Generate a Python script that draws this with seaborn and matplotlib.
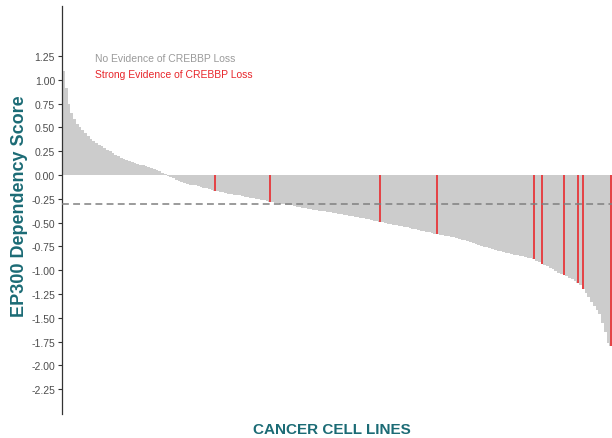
####################################################################################################
# EP300 dependency waterfall, cell lines sorted by score, CREBBP loss highlighted in red
####################################################################################################

import numpy as np
import pandas as pd
import seaborn as sns
import matplotlib
matplotlib.use('Agg')
import matplotlib.pyplot as plt

# Dependency scores (sorted, highest first)
scores = [
    1.09, 0.91, 0.75, 0.65, 0.59, 0.54, 0.50, 0.47, 0.44, 0.41,
    0.38, 0.36, 0.34, 0.32, 0.30, 0.28, 0.26, 0.25, 0.23, 0.21,
    0.20, 0.18, 0.17, 0.16, 0.15, 0.14, 0.13, 0.12, 0.11, 0.10,
    0.09, 0.08, 0.07, 0.06, 0.05, 0.04, 0.025, 0.01, -0.01, -0.02,
    -0.035, -0.05, -0.06, -0.07, -0.08, -0.09, -0.10, -0.105, -0.11, -0.12,
    -0.13, -0.135, -0.14, -0.15, -0.155, -0.165, -0.17, -0.175, -0.18, -0.19,
    -0.195, -0.20, -0.205, -0.21, -0.215, -0.22, -0.23, -0.235, -0.24, -0.245,
    -0.25, -0.255, -0.26, -0.265, -0.27, -0.28, -0.285, -0.29, -0.295, -0.30,
    -0.305, -0.31, -0.315, -0.32, -0.33, -0.335, -0.34, -0.345, -0.35, -0.355,
    -0.36, -0.365, -0.37, -0.375, -0.38, -0.38, -0.39, -0.39, -0.40, -0.40,
    -0.41, -0.41, -0.42, -0.42, -0.43, -0.435, -0.44, -0.445, -0.45, -0.455,
    -0.46, -0.465, -0.47, -0.48, -0.485, -0.49, -0.495, -0.50, -0.51, -0.515,
    -0.52, -0.53, -0.535, -0.54, -0.545, -0.55, -0.56, -0.565, -0.57, -0.58,
    -0.585, -0.59, -0.595, -0.60, -0.61, -0.615, -0.62, -0.625, -0.63, -0.64,
    -0.645, -0.65, -0.655, -0.66, -0.67, -0.68, -0.685, -0.695, -0.705, -0.715,
    -0.725, -0.735, -0.745, -0.755, -0.76, -0.77, -0.78, -0.785, -0.795, -0.80,
    -0.81, -0.815, -0.82, -0.83, -0.835, -0.845, -0.85, -0.855, -0.865, -0.87,
    -0.875, -0.88, -0.90, -0.915, -0.93, -0.945, -0.96, -0.975, -0.99, -1.01,
    -1.025, -1.04, -1.055, -1.065, -1.08, -1.095, -1.11, -1.13, -1.16, -1.20,
    -1.24, -1.285, -1.33, -1.375, -1.42, -1.465, -1.555, -1.65, -1.76, -1.80,
]

# Positions (rank) of the cell lines with strong evidence of CREBBP loss
crebbp_loss_ranks = [55, 75, 115, 136, 171, 174, 182, 187, 189, 199]

status_labels = ['No Evidence of CREBBP Loss', 'Strong Evidence of CREBBP Loss']
status_colors = ['#cccccc', '#e44447']
text_colors = ['#9a9a9a', '#e8262b']

threshold = -0.3
y_ticks = [-2.25, -2.0, -1.75, -1.5, -1.25, -1.0, -0.75, -0.5, -0.25, 0.0, 0.25, 0.5, 0.75, 1.0, 1.25]

teal = '#1b6b75'

####################################################################################################
# Data frame
####################################################################################################
df = pd.DataFrame({'Rank': list(range(len(scores))), 'Score': scores})
df['Loss'] = [s if i in crebbp_loss_ranks else np.nan for i, s in zip(df['Rank'], df['Score'])]

####################################################################################################
# Plot
####################################################################################################
sns.set_theme(style='white')
plt.rcParams['font.family'] = ['Liberation Sans', 'DejaVu Sans']
plt.rcParams['axes.unicode_minus'] = False

fig = plt.figure(figsize=(6.12, 4.39), dpi=100)
ax = fig.add_axes([62 / 612, 1 - 415 / 439, 550 / 612, 408 / 439])

# All cell lines in gray, then the CREBBP-loss lines as thinner red bars on top
sns.barplot(data=df, x='Rank', y='Score', color=status_colors[0], width=1.0,
            saturation=1, errorbar=None, linewidth=0, ax=ax)
sns.barplot(data=df, x='Rank', y='Loss', color=status_colors[1], width=0.7,
            saturation=1, errorbar=None, linewidth=0, ax=ax)

ax.axhline(threshold, color='#808080', linestyle=(0, (4.5, 2.8)), linewidth=1.1, zorder=5)

# Text legend in the top left corner
ax.text(11.5, 1.23, status_labels[0], color=text_colors[0], fontsize=7.5, va='center', ha='left')
ax.text(11.5, 1.065, status_labels[1], color=text_colors[1], fontsize=7.5, va='center', ha='left')

ax.set_xlim(-0.5, len(scores) - 0.5)
ax.set_ylim(-2.51, 1.775)
ax.set_yticks(y_ticks)
ax.set_yticklabels(['%.2f' % v for v in y_ticks])
ax.set_xticks([])

ax.tick_params(axis='y', left=True, length=3, width=0.8, color='#333333',
               labelsize=7.5, labelcolor='#4d4d4d', pad=2)

for side in ['top', 'right', 'bottom']:
    ax.spines[side].set_visible(False)
ax.spines['left'].set_color('#333333')
ax.spines['left'].set_linewidth(0.9)

ax.set_ylabel('EP300 Dependency Score', fontsize=13, fontweight='bold', color=teal)
ax.set_xlabel('CANCER CELL LINES', fontsize=11, fontweight='bold', color=teal)
ax.yaxis.set_label_coords(-0.062, 0.512)
ax.xaxis.set_label_coords(0.491, -0.02)

plt.savefig('out.png', dpi=100)
